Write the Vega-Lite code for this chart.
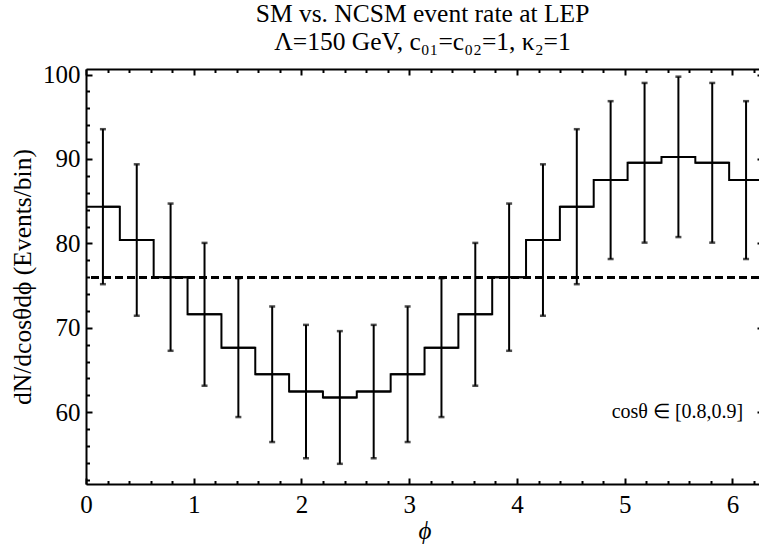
{
  "$schema": "https://vega.github.io/schema/vega-lite/v6.json",
  "autosize": "none",
  "width": 673,
  "height": 415,
  "padding": {"left": 86, "top": 69, "right": 0, "bottom": 66},
  "background": "white",
  "title": {
    "text": "SM vs. NCSM event rate at LEP",
    "subtitle": "Λ=150 GeV, c₀₁=c₀₂=1, κ₂=1",
    "font": "Liberation Serif",
    "fontSize": 25.5,
    "fontWeight": "normal",
    "color": "black",
    "subtitleFont": "Liberation Serif",
    "subtitleFontSize": 25.5,
    "subtitleColor": "black",
    "subtitlePadding": 3,
    "anchor": "middle",
    "offset": 7
  },
  "config": {
    "view": {"stroke": null},
    "axis": {
      "labelFont": "Liberation Serif",
      "labelFontSize": 25,
      "labelColor": "black",
      "titleFont": "Liberation Serif",
      "titleFontSize": 25,
      "titleFontWeight": "normal",
      "titleColor": "black",
      "domainColor": "black",
      "domainWidth": 2,
      "tickColor": "black",
      "tickWidth": 2,
      "grid": false,
      "labelFlush": false,
      "labelOverlap": false
    }
  },
  "data": {
    "values": [
      {"phi": 0.157, "lo": 0.0, "hi": 0.314, "n": 84.35, "elo": 75.17, "ehi": 93.53},
      {"phi": 0.471, "lo": 0.314, "hi": 0.628, "n": 80.4, "elo": 71.43, "ehi": 89.37},
      {"phi": 0.785, "lo": 0.628, "hi": 0.942, "n": 76.0, "elo": 67.28, "ehi": 84.72},
      {"phi": 1.1, "lo": 0.942, "hi": 1.257, "n": 71.6, "elo": 63.14, "ehi": 80.06},
      {"phi": 1.414, "lo": 1.257, "hi": 1.571, "n": 67.65, "elo": 59.43, "ehi": 75.88},
      {"phi": 1.728, "lo": 1.571, "hi": 1.885, "n": 64.5, "elo": 56.47, "ehi": 72.53},
      {"phi": 2.042, "lo": 1.885, "hi": 2.199, "n": 62.45, "elo": 54.55, "ehi": 70.35},
      {"phi": 2.356, "lo": 2.199, "hi": 2.513, "n": 61.75, "elo": 53.89, "ehi": 69.61},
      {"phi": 2.67, "lo": 2.513, "hi": 2.827, "n": 62.45, "elo": 54.55, "ehi": 70.35},
      {"phi": 2.985, "lo": 2.827, "hi": 3.142, "n": 64.5, "elo": 56.47, "ehi": 72.53},
      {"phi": 3.299, "lo": 3.142, "hi": 3.456, "n": 67.65, "elo": 59.43, "ehi": 75.88},
      {"phi": 3.613, "lo": 3.456, "hi": 3.77, "n": 71.6, "elo": 63.14, "ehi": 80.06},
      {"phi": 3.927, "lo": 3.77, "hi": 4.084, "n": 76.0, "elo": 67.28, "ehi": 84.72},
      {"phi": 4.241, "lo": 4.084, "hi": 4.398, "n": 80.4, "elo": 71.43, "ehi": 89.37},
      {"phi": 4.555, "lo": 4.398, "hi": 4.712, "n": 84.35, "elo": 75.17, "ehi": 93.53},
      {"phi": 4.869, "lo": 4.712, "hi": 5.027, "n": 87.5, "elo": 78.15, "ehi": 96.85},
      {"phi": 5.184, "lo": 5.027, "hi": 5.341, "n": 89.55, "elo": 80.09, "ehi": 99.01},
      {"phi": 5.498, "lo": 5.341, "hi": 5.655, "n": 90.25, "elo": 80.75, "ehi": 99.75},
      {"phi": 5.812, "lo": 5.655, "hi": 5.969, "n": 89.55, "elo": 80.09, "ehi": 99.01},
      {"phi": 6.126, "lo": 5.969, "hi": 6.283, "n": 87.5, "elo": 78.15, "ehi": 96.85}
    ]
  },
  "resolve": {"axis": {"x": "independent", "y": "independent"}},
  "layer": [
    {
      "mark": {"type": "rule", "color": "black", "strokeWidth": 2},
      "encoding": {
        "x": {
          "field": "lo", "type": "quantitative",
          "scale": {"domain": [0, 6.2832], "range": [0, 677], "nice": false, "zero": false},
          "axis": {"orient": "bottom", "values": [0, 1, 2, 3, 4, 5, 6], "format": "d", "tickSize": -6, "labelPadding": 14, "title": "ϕ", "titleFontStyle": "italic", "titlePadding": 1}
        },
        "x2": {"field": "hi"},
        "y": {
          "field": "n", "type": "quantitative",
          "scale": {"domain": [51.5, 100.66], "nice": false, "zero": false},
          "axis": {"orient": "left", "values": [60, 70, 80, 90, 100], "format": "d", "tickSize": -6, "labelPadding": 12, "title": "dN/dcosθdϕ (Events/bin)", "titleFont": "Liberation Serif", "titleFontSize": 25.5, "titlePadding": 7}
        }
      }
    },
    {
      "mark": {"type": "line", "color": "black", "strokeWidth": 2, "interpolate": "step"},
      "encoding": {
        "x": {
          "field": "phi", "type": "quantitative",
          "axis": {"orient": "bottom", "values": [0.2, 0.4, 0.6, 0.8, 1.2, 1.4, 1.6, 1.8, 2.2, 2.4, 2.6, 2.8, 3.2, 3.4, 3.6, 3.8, 4.2, 4.4, 4.6, 4.8, 5.2, 5.4, 5.6, 5.8, 6.2], "tickSize": -3.5, "labels": false, "domain": false, "title": null}
        },
        "y": {
          "field": "n", "type": "quantitative",
          "axis": {"orient": "left", "values": [52, 54, 56, 58, 62, 64, 66, 68, 72, 74, 76, 78, 82, 84, 86, 88, 92, 94, 96, 98], "tickSize": -3.5, "labels": false, "domain": false, "title": null}
        }
      }
    },
    {
      "mark": {"type": "rule", "color": "black", "strokeWidth": 2},
      "encoding": {
        "x": {
          "field": "phi", "type": "quantitative",
          "axis": {"orient": "top", "values": [0, 1, 2, 3, 4, 5, 6], "tickSize": -6, "labels": false, "title": null}
        },
        "y": {
          "field": "elo", "type": "quantitative",
          "axis": {"orient": "right", "values": [60, 70, 80, 90, 100], "tickSize": -6, "labels": false, "title": null, "offset": 4}
        },
        "y2": {"field": "ehi"}
      }
    },
    {
      "mark": {"type": "tick", "color": "black", "orient": "horizontal", "size": 6, "thickness": 2.5},
      "encoding": {
        "x": {
          "field": "phi", "type": "quantitative",
          "axis": {"orient": "top", "values": [0.2, 0.4, 0.6, 0.8, 1.2, 1.4, 1.6, 1.8, 2.2, 2.4, 2.6, 2.8, 3.2, 3.4, 3.6, 3.8, 4.2, 4.4, 4.6, 4.8, 5.2, 5.4, 5.6, 5.8, 6.2], "tickSize": -3.5, "labels": false, "domain": false, "title": null}
        },
        "y": {"field": "ehi", "type": "quantitative", "axis": null}
      }
    },
    {
      "mark": {"type": "tick", "color": "black", "orient": "horizontal", "size": 6, "thickness": 2.5},
      "encoding": {
        "x": {"field": "phi", "type": "quantitative", "axis": null},
        "y": {"field": "elo", "type": "quantitative", "axis": null}
      }
    },
    {
      "mark": {"type": "rule", "color": "black", "strokeWidth": 2, "strokeDash": [8, 4]},
      "encoding": {
        "y": {"datum": 76, "type": "quantitative", "axis": null}
      }
    },
    {
      "data": {"values": [{"label": "cosθ ∈ [0.8,0.9]", "px": 6.1, "py": 60}]},
      "mark": {"type": "text", "font": "Liberation Serif", "fontSize": 20, "color": "black", "align": "right", "baseline": "middle"},
      "encoding": {
        "x": {"field": "px", "type": "quantitative", "axis": null},
        "y": {"field": "py", "type": "quantitative", "axis": null},
        "text": {"field": "label"}
      }
    }
  ]
}
